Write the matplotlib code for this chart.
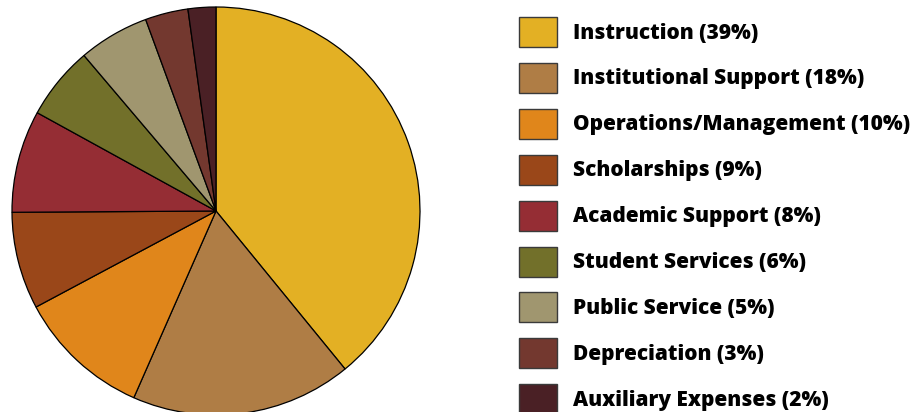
import matplotlib
matplotlib.use("Agg")
import matplotlib.pyplot as plt
from matplotlib.patches import Rectangle

categories = [
    "Instruction",
    "Institutional Support",
    "Operations/Management",
    "Scholarships",
    "Academic Support",
    "Student Services",
    "Public Service",
    "Depreciation",
    "Auxiliary Expenses",
]
# printed percentages (legend) and wedge sizes as drawn in the chart
pct_labels = [39, 18, 10, 9, 8, 6, 5, 3, 2]
wedge_sizes = [39.1, 17.5, 10.6, 7.7, 8.1, 5.8, 5.6, 3.4, 2.2]
colors = [
    "#E3B024",
    "#AF7D45",
    "#E0861B",
    "#9A4719",
    "#952D34",
    "#72702A",
    "#A0966F",
    "#73382F",
    "#4A2025",
]

W, H = 919, 412
fig = plt.figure(figsize=(W / 100, H / 100), dpi=100)

# pie: centre (216, 211) px, radius 204 px
cx, cy, r = 216, 211, 204
ax = fig.add_axes([(cx - r) / W, (H - cy - r) / H, 2 * r / W, 2 * r / H])
ax.pie(
    wedge_sizes,
    colors=colors,
    startangle=90,
    counterclock=False,
    radius=1,
    wedgeprops={"edgecolor": "black", "linewidth": 0.9},
)
ax.set_xlim(-1, 1)
ax.set_ylim(-1, 1)
ax.axis("off")

# legend drawn in pixel coordinates
leg = fig.add_axes([0, 0, 1, 1])
leg.set_xlim(0, W)
leg.set_ylim(H, 0)
leg.axis("off")
row_y = [32 + 45.9 * i for i in range(len(categories))]
for name, pct, col, y in zip(categories, pct_labels, colors, row_y):
    leg.add_patch(Rectangle((519, y - 15), 38, 30, facecolor=col,
                            edgecolor="#3a3a3a", linewidth=1.0))
    leg.text(573, y + 1, f"{name} ({pct}%)", fontsize=15.0, fontweight="heavy",
             family="Open Sans", va="center", ha="left", color="black")

fig.savefig("out.png", dpi=100)
